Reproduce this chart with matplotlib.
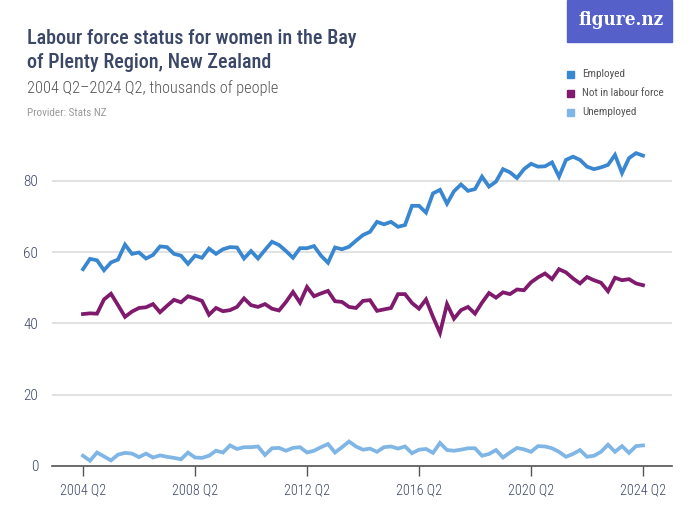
import matplotlib
matplotlib.use('Agg')
import matplotlib.pyplot as plt
from matplotlib.patches import Rectangle

sans = ['Roboto Condensed', 'Archivo Narrow', 'Encode Sans Condensed', 'DejaVu Sans']
plt.rcParams['font.family'] = sans

# quarters 2004 Q2 .. 2024 Q2
quarters = [f'{2004 + (q + 1) // 4} Q{(q + 1) % 4 + 1}' for q in range(81)]
tick_labels = ['2004 Q2', '2008 Q2', '2012 Q2', '2016 Q2', '2020 Q2', '2024 Q2']

employed = [
    55.2, 58.1, 57.7, 54.9, 57.1, 57.9, 62.1, 59.5, 59.9, 58.2,
    59.2, 61.6, 61.4, 59.5, 59.0, 56.7, 59.0, 58.4, 61.0, 59.5,
    60.8, 61.4, 61.3, 58.2, 60.3, 58.2, 60.6, 62.9, 62.0, 60.3,
    58.4, 61.1, 61.1, 61.7, 59.0, 57.0, 61.3, 60.8, 61.5, 63.2,
    64.8, 65.7, 68.5, 67.8, 68.5, 67.1, 67.6, 73.0, 73.0, 71.1,
    76.5, 77.5, 73.6, 77.1, 79.0, 77.2, 77.7, 81.2, 78.4, 79.8,
    83.3, 82.4, 80.8, 83.3, 84.8, 84.0, 84.1, 85.2, 81.2, 85.9,
    86.8, 85.9, 84.0, 83.3, 83.8, 84.5, 87.3, 82.2, 86.4, 87.8,
    87.1,
]

not_in_lf = [
    42.6, 42.8, 42.7, 46.7, 48.3, 45.1, 41.8, 43.3, 44.3, 44.5,
    45.4, 43.1, 44.9, 46.6, 45.9, 47.6, 47.0, 46.3, 42.4, 44.3,
    43.4, 43.7, 44.6, 47.0, 45.1, 44.6, 45.4, 44.1, 43.6, 46.0,
    48.8, 45.8, 50.2, 47.6, 48.4, 49.1, 46.2, 46.0, 44.6, 44.3,
    46.3, 46.5, 43.5, 43.9, 44.3, 48.2, 48.2, 45.7, 44.1, 46.7,
    41.8, 37.3, 45.4, 41.3, 43.7, 44.6, 42.7, 45.8, 48.5, 47.2,
    48.7, 48.2, 49.5, 49.3, 51.5, 52.9, 54.0, 52.4, 55.2, 54.3,
    52.6, 51.2, 53.0, 52.1, 51.4, 49.0, 52.8, 52.1, 52.4, 51.2,
    50.7,
]

unemployed = [
    2.8, 1.4, 3.7, 2.6, 1.5, 3.1, 3.6, 3.4, 2.4, 3.4,
    2.3, 2.9, 2.5, 2.2, 1.8, 3.7, 2.3, 2.2, 2.8, 4.2,
    3.7, 5.7, 4.7, 5.2, 5.2, 5.4, 3.0, 4.9, 5.0, 4.2,
    5.0, 5.2, 3.7, 4.2, 5.2, 6.1, 3.7, 5.2, 6.8, 5.4,
    4.5, 4.8, 3.9, 5.2, 5.4, 4.8, 5.4, 3.5, 4.5, 4.7,
    3.6, 6.4, 4.4, 4.2, 4.5, 4.9, 4.9, 2.8, 3.3, 4.4,
    2.3, 3.7, 5.0, 4.6, 3.9, 5.5, 5.4, 4.9, 3.9, 2.5,
    3.3, 4.4, 2.5, 2.8, 3.9, 5.9, 3.9, 5.5, 3.6, 5.5,
    5.7,
]

series_names = ['Employed', 'Not in labour force', 'Unemployed']
colors = ['#3a87d1', '#7f1a6c', '#7fb6e6']
navy = '#3b4766'

W, H = 700, 525
fig = plt.figure(figsize=(7, 5.25), dpi=100)

x0, x1 = 52, 672
y_zero, px_per_unit = 465.7, 3.56
ymax = 90
ax = fig.add_axes([x0 / W, (H - y_zero) / H, (x1 - x0) / W, ymax * px_per_unit / H])

xs = list(range(len(quarters)))
for vals, c in zip([employed, not_in_lf, unemployed], colors):
    ax.plot(xs, vals, color=c, linewidth=2.7, solid_joinstyle='miter', zorder=3)

ax.set_xlim((x0 - 83) / 7, (x1 - 83) / 7)
ax.set_ylim(0, ymax)
ax.set_yticks([0, 20, 40, 60, 80])
ax.set_yticklabels(['0', '20', '40', '60', '80'])
tick_pos = [quarters.index(t) for t in tick_labels]
ax.set_xticks(tick_pos)
ax.set_xticklabels(tick_labels)
ax.grid(axis='y', color='#dddddd', linewidth=1.2, zorder=0)
ax.tick_params(axis='y', length=0, pad=10, labelsize=11, labelcolor=navy)
ax.tick_params(axis='x', length=7, width=1, color='#555555', pad=6,
               labelsize=10.2, labelcolor=navy)
for lab in ax.get_xticklabels() + ax.get_yticklabels():
    lab.set_fontweight('light')
for s in ['top', 'right', 'left']:
    ax.spines[s].set_visible(False)
ax.spines['bottom'].set_color('#555555')
ax.spines['bottom'].set_linewidth(1.2)
ax.spines['bottom'].set_zorder(4)

# titles
fig.text(27 / W, 1 - 38 / H, 'Labour force status for women in the Bay',
         fontsize=14.5, color=navy, fontweight='medium', va='center', ha='left')
fig.text(27 / W, 1 - 62 / H, 'of Plenty Region, New Zealand',
         fontsize=14.5, color=navy, fontweight='medium', va='center', ha='left')
fig.text(27 / W, 1 - 88 / H, '2004 Q2–2024 Q2, thousands of people',
         fontsize=11.8, color='#555555', fontweight='light', va='center', ha='left')
fig.text(27 / W, 1 - 113 / H, 'Provider: Stats NZ',
         fontsize=8, color='#999999', va='center', ha='left')

# logo
fig.patches.append(Rectangle((567 / W, 1 - 42 / H), 105 / W, 42 / H,
                             transform=fig.transFigure, color='#5560c8', zorder=1))
fig.text(621 / W, 1 - 20 / H, 'figure.nz', fontsize=13.5, color='white',
         fontweight='bold', family=['DejaVu Serif'], fontstretch='condensed',
         va='center', ha='center', zorder=2)

# legend
for k, (name, c) in enumerate(zip(series_names, colors)):
    yy = 74 + 19 * k
    fig.patches.append(Rectangle((567 / W, 1 - (yy + 3.5) / H), 7 / W, 7 / H,
                                 transform=fig.transFigure, color=c))
    fig.text(582 / W, 1 - yy / H, name, fontsize=8, color='#555555',
             va='center', ha='left')

fig.savefig('out.png', dpi=100)
